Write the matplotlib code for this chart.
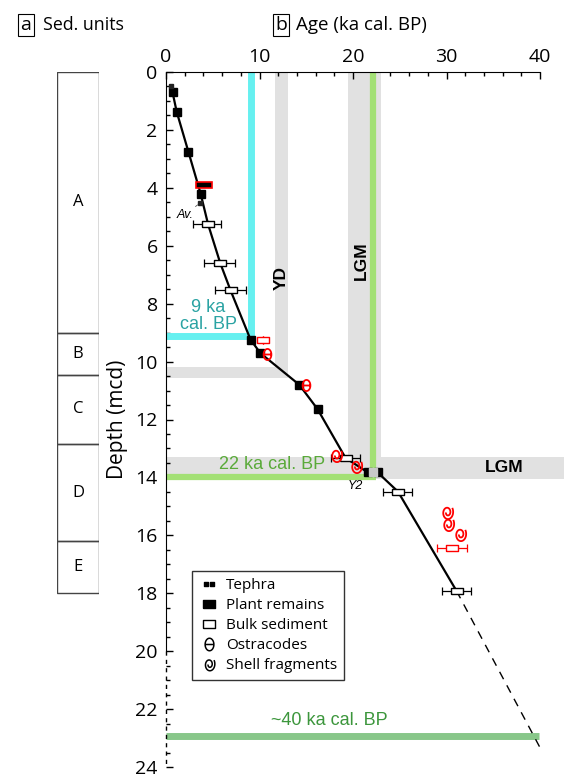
import numpy as np
import matplotlib
matplotlib.use('Agg')
import matplotlib.pyplot as plt
from matplotlib.path import Path
from matplotlib.lines import Line2D
import matplotlib.ticker as mticker

plt.rcParams['font.family'] = ['Open Sans', 'DejaVu Sans']

# Sedimentary units (depth in mcd)
unit_names = ['A', 'B', 'C', 'D', 'E']
unit_top = [0.0, 9.0, 10.45, 12.85, 16.2]
unit_bottom = [9.0, 10.45, 12.85, 16.2, 18.0]

# Plant remains (age ka, depth mcd)
plant_age = [0.7, 1.14, 2.4, 3.7, 9.05, 10.1, 14.25, 16.2, 21.6, 22.7]
plant_depth = [0.7, 1.37, 2.76, 4.2, 9.25, 9.71, 10.8, 11.64, 13.83, 13.83]

# rejected plant remains sample (red outline), age range
plant_rej_age_min = [3.2]
plant_rej_age_max = [4.9]
plant_rej_depth = [3.91]

# Tephra
tephra_age = [0.55, 3.6]
tephra_depth = [0.5, 4.53]
y2_age = [22.15]
y2_depth = [13.83]

# Bulk sediment with age errors
bulk_age = [4.5, 5.8, 6.9, 19.2, 24.8, 31.06]
bulk_depth = [5.26, 6.6, 7.54, 13.33, 14.49, 17.92]
bulk_err_lo = [1.65, 1.7, 1.7, 1.6, 1.6, 1.55]
bulk_err_hi = [1.4, 1.6, 1.6, 1.5, 1.5, 1.6]

# rejected bulk samples (red)
bulk_rej_age = [10.4, 30.6]
bulk_rej_depth = [9.25, 16.45]
bulk_rej_err = [0.0, 1.6]

# Ostracodes
ostra_age = [10.8, 15.0]
ostra_depth = [9.73, 10.8]

# Shell fragments
shell_age = [18.2, 20.3, 30.0, 30.2, 31.4]
shell_depth = [13.23, 13.6, 15.18, 15.6, 15.96]

# Age-depth model
model_age = [0.55, 0.7, 1.14, 2.4, 3.7, 4.5, 5.8, 6.9, 9.05, 10.1, 14.25, 16.2, 19.2, 21.6, 22.7, 24.8, 31.06]
model_depth = [0.5, 0.7, 1.37, 2.76, 4.2, 5.26, 6.6, 7.54, 9.25, 9.71, 10.8, 11.64, 13.33, 13.83, 13.85, 14.49, 17.92]
extrap_age = [31.06, 40.1]
extrap_depth = [17.92, 23.4]

# Reference periods
yd_age = (11.6, 13.0)
yd_depth = (10.2, 10.55)
lgm_age = (19.5, 23.0)
lgm_depth = (13.3, 14.05)
ka9_age, ka9_depth = 9.05, 9.12
ka22_age, ka22_depth = 22.1, 13.97
ka40_age, ka40_depth = 39.9, 22.94

grey = '#e1e1e1'
cyan = '#66f0f0'
lgreen = '#a3e075'
dgreen = '#88c78a'

fig = plt.figure(figsize=(5.64, 7.78), dpi=100)
ax = fig.add_axes([166 / 564, 11 / 778, 398 / 564, 695 / 778])
axu = fig.add_axes([57 / 564, 11 / 778, 42 / 564, 695 / 778])

# --- units column
axu.bar([0.5] * len(unit_names), np.subtract(unit_bottom, unit_top), bottom=unit_top,
        width=1, fill=False, edgecolor='#444444', linewidth=1)
for name, t, b in zip(unit_names, unit_top, unit_bottom):
    axu.text(0.5, (t + b) / 2, name, ha='center', va='center', fontsize=12)
axu.set_xlim(0, 1)
axu.set_ylim(24, 0)
axu.axis('off')

# --- bands
ax.fill_betweenx([0, yd_depth[1]], yd_age[0], yd_age[1], color=grey, lw=0, zorder=1)
ax.fill_between([0, yd_age[1]], yd_depth[0], yd_depth[1], color=grey, lw=0, zorder=1)
ax.fill_betweenx([0, lgm_depth[1]], lgm_age[0], lgm_age[1], color=grey, lw=0, zorder=1)
ax.fill_between([0, 42.6], lgm_depth[0], lgm_depth[1], color=grey, lw=0, zorder=1)

ax.plot([ka9_age, ka9_age], [0, ka9_depth], color=cyan, lw=5, solid_capstyle='butt', zorder=2)
ax.plot([0, ka9_age + 0.35], [ka9_depth, ka9_depth], color=cyan, lw=5, solid_capstyle='butt', zorder=2)
ax.plot([ka22_age, ka22_age], [0, ka22_depth], color=lgreen, lw=4.5, solid_capstyle='butt', zorder=2)
ax.plot([0, ka22_age + 0.3], [ka22_depth, ka22_depth], color=lgreen, lw=4.5, solid_capstyle='butt', zorder=2)
ax.plot([0, ka40_age], [ka40_depth, ka40_depth], color=dgreen, lw=5, solid_capstyle='butt', zorder=2)

# --- age-depth model
ax.plot(model_age, model_depth, color='black', lw=1.6, zorder=3)
ax.plot(extrap_age, extrap_depth, color='black', lw=1.0, ls=(0, (6, 5)), zorder=3)

# marker shapes
rect = [(-1.6, -1), (1.6, -1), (1.6, 1), (-1.6, 1), (-1.6, -1)]
t = np.linspace(0, 3.2 * np.pi, 80)
r = 0.25 + 0.75 * t / t[-1]
spiral = Path(np.column_stack([0.75 * r * np.cos(t + np.pi), r * np.sin(t + np.pi)]))
a = np.linspace(0, 2 * np.pi, 60)
theta_verts = np.vstack([np.column_stack([0.7 * np.cos(a), np.sin(a)]), [[-0.7, 0], [0.7, 0]]])
theta_codes = [Path.MOVETO] + [Path.LINETO] * 59 + [Path.MOVETO, Path.LINETO]
theta = Path(theta_verts, theta_codes)
two_sq = Path([(-1, -0.5), (-0.15, -0.5), (-0.15, 0.5), (-1, 0.5), (-1, -0.5),
               (0.15, -0.5), (1, -0.5), (1, 0.5), (0.15, 0.5), (0.15, -0.5)],
              [1, 2, 2, 2, 79, 1, 2, 2, 2, 79])

ax.barh(plant_rej_depth, np.subtract(plant_rej_age_max, plant_rej_age_min),
        left=plant_rej_age_min, height=0.2, color='black', edgecolor='red', lw=1.2, zorder=5)
ax.plot(plant_age, plant_depth, ls='none', marker='s', ms=5.5, color='black', zorder=5)
ax.plot(tephra_age, tephra_depth, ls='none', marker='s', ms=3.5, color='#222222', zorder=5)
ax.plot(y2_age, y2_depth, ls='none', marker='s', ms=5.5, color='#c8c8c8', zorder=5)

ax.errorbar(bulk_age, bulk_depth, xerr=[bulk_err_lo, bulk_err_hi], fmt='none',
            ecolor='black', elinewidth=0.9, capsize=3, capthick=0.9, zorder=4)
ax.plot(bulk_age, bulk_depth, ls='none', marker=rect, ms=8, mfc='white', mec='black', mew=1, zorder=5)
ax.errorbar(bulk_rej_age, bulk_rej_depth, xerr=bulk_rej_err, fmt='none',
            ecolor='red', elinewidth=0.9, capsize=3, capthick=0.9, zorder=4)
ax.plot(bulk_rej_age, bulk_rej_depth, ls='none', marker=rect, ms=8, mfc='white', mec='red', mew=1, zorder=5)

ax.plot(ostra_age, ostra_depth, ls='none', marker=theta, ms=8, mfc='none', mec='red', mew=1.3, zorder=6)
ax.plot(shell_age, shell_depth, ls='none', marker=spiral, ms=9.5, mfc='none', mec='red', mew=1.3, zorder=6)

# --- annotations
ax.annotate('Av.', xy=(tephra_age[1], tephra_depth[1]), xytext=(2.0, 4.95), fontsize=9,
            style='italic', family='Liberation Sans', ha='center', va='center',
            arrowprops=dict(arrowstyle='-', ls='--', lw=0.6, color='#555555', shrinkA=4, shrinkB=2))
ax.annotate('Y2', xy=(y2_age[0], y2_depth[0]), xytext=(20.2, 14.28), fontsize=9,
            style='italic', family='Liberation Sans', ha='center', va='center',
            arrowprops=dict(arrowstyle='-', lw=0.6, color='#555555', shrinkA=5, shrinkB=2))

ax.text(4.5, 8.42, '9 ka\ncal. BP', color='#2aa3a3', fontsize=13, ha='center', va='center',
        family='Liberation Sans', linespacing=1.0)
ax.text(11.3, 13.55, '22 ka cal. BP', color='#5aaa3a', fontsize=13, ha='center', va='center',
        family='Liberation Sans')
ax.text(17.5, 22.4, '~40 ka cal. BP', color='#3c963c', fontsize=13, ha='center', va='center',
        family='Liberation Sans')
ax.text(12.35, 7.1, 'YD', rotation=90, fontsize=12.5, fontweight='bold', ha='center', va='center',
        family='Liberation Sans')
ax.text(20.9, 6.5, 'LGM', rotation=90, fontsize=12.5, fontweight='bold', ha='center', va='center',
        family='Liberation Sans')
ax.text(36.2, 13.65, 'LGM', fontsize=12.5, fontweight='bold', ha='center', va='center',
        family='Liberation Sans')

# --- axes
ax.set_xlim(0, 42.55)
ax.set_ylim(24, 0)
ax.xaxis.tick_top()
ax.set_xticks([0, 10, 20, 30, 40])
ax.xaxis.set_minor_locator(mticker.FixedLocator(np.arange(0, 41, 2)))
ax.set_yticks(np.arange(0, 25, 2))
ax.yaxis.set_minor_locator(mticker.MultipleLocator(0.5))
ax.tick_params(axis='x', which='both', direction='in', labelsize=14, pad=4, top=True, bottom=False)
ax.tick_params(axis='y', which='both', direction='in', labelsize=14, pad=6, right=False)
ax.tick_params(which='major', length=5, width=1)
ax.tick_params(which='minor', length=3, width=1)
ax.spines['right'].set_visible(False)
ax.spines['bottom'].set_visible(False)
ax.spines['top'].set_bounds(0, 40)
ax.spines['left'].set_bounds(0, 20)
ax.plot([0, 0], [20, 24], color='black', lw=1, ls=(0, (3, 3)), clip_on=False, zorder=7)
ax.set_ylabel('Depth (mcd)', fontsize=15)
ax.yaxis.set_label_coords(-0.095, 0.5)

# --- legend
handles = [
    Line2D([], [], ls='none', marker=two_sq, ms=7, color='black'),
    Line2D([], [], ls='none', marker=rect, ms=9, color='black'),
    Line2D([], [], ls='none', marker=rect, ms=9, mfc='white', mec='black'),
    Line2D([], [], ls='none', marker=theta, ms=9, mfc='none', mec='black', mew=1.1),
    Line2D([], [], ls='none', marker=spiral, ms=9, mfc='none', mec='black', mew=1.1),
]
labels = ['Tephra', 'Plant remains', 'Bulk sediment', 'Ostracodes', 'Shell fragments']
leg = fig.legend(handles, labels, loc='upper left', bbox_to_anchor=(192 / 564, 1 - 571 / 778),
                 fontsize=11, frameon=True, fancybox=False, edgecolor='black', handlelength=1.3,
                 handletextpad=0.5, labelspacing=0.33, borderpad=0.45, borderaxespad=0)
leg.get_frame().set_linewidth(1)

# --- headers
fig.text(26 / 564, 1 - 25 / 778, 'a', fontsize=14, ha='center', va='center',
         bbox=dict(boxstyle='square,pad=0.12', fc='none', ec='black', lw=0.8))
fig.text(43 / 564, 1 - 25 / 778, 'Sed. units', fontsize=12.8, ha='left', va='center')
fig.text(281 / 564, 1 - 25 / 778, 'b', fontsize=14, ha='center', va='center',
         bbox=dict(boxstyle='square,pad=0.12', fc='none', ec='black', lw=0.8))
fig.text(296 / 564, 1 - 25 / 778, 'Age (ka cal. BP)', fontsize=13.5, ha='left', va='center')

fig.savefig('out.png', dpi=100)
